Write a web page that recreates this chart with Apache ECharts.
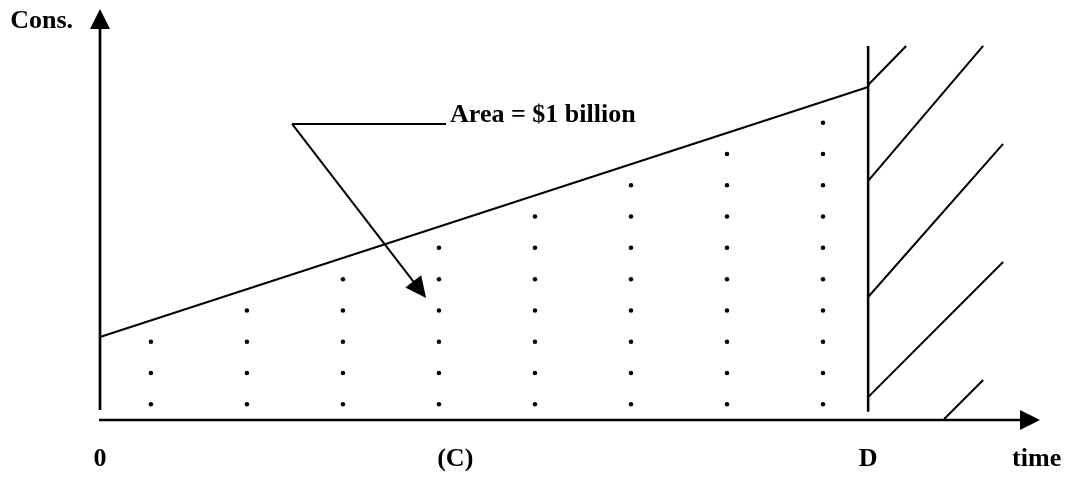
<!DOCTYPE html>
<html>
<head>
<meta charset="utf-8">
<script src="https://cdn.jsdelivr.net/npm/echarts@6/dist/echarts.min.js"></script>
<style>
  html, body { margin: 0; padding: 0; background: #fff; }
  #chart { width: 1070px; height: 481px; }
</style>
</head>
<body>
<div id="chart"></div>
<script>
// ---- data (diagram units: time on x, consumption on y) ----
const timeTickValues = [0, 3.7, 8, 9.755];
const timeTickLabels = ['0', '(C)', 'D', 'time'];
const consLabelValue = 12.73;
const consLabel = 'Cons.';

const yAxisSegment = [[0, 0.32, 0, 13.13]];
const xAxisSegment = [[-0.01, 0, 9.79, 0]];
const consumptionPath = [[0, 2.65], [8, 10.64]];
const deadlineSegment = [[8, 0.26, 8, 11.95]];
const hatchSegments = [
  [8, 10.70, 8.396, 11.95],
  [8, 7.64, 9.198, 11.95],
  [8, 3.93, 9.406, 8.82],
  [8, 0.73, 9.406, 5.05],
  [8.792, 0.03, 9.198, 1.28]
];
const dotColumnX = [0.53, 1.53, 2.53, 3.53, 4.53, 5.53, 6.53, 7.53];
const dotColumnCount = [3, 4, 5, 6, 7, 8, 9, 10];
const dotRowY = [0.5, 1.5, 2.5, 3.5, 4.5, 5.5, 6.5, 7.5, 8.5, 9.5];
const annotationRule = [[2.0, 9.46, 3.604, 9.46]];
const annotationLeader = [[2.0, 9.46, 3.396, 3.90]];
const annotationText = 'Area = $1 billion';
const annotationAnchor = [3.646, 9.72];

// ---- build ----
const dots = [];
dotColumnX.forEach((x, i) => {
  dotRowY.slice(0, dotColumnCount[i]).forEach(y => dots.push([x, y]));
});

const FONT = { fontFamily: 'Liberation Serif', fontWeight: 'bold', fontSize: 26, color: '#000' };

function segmentSeries(data, width, arrow) {
  return {
    type: 'custom',
    coordinateSystem: 'cartesian2d',
    clip: false,
    silent: true,
    encode: { x: [0, 2], y: [1, 3] },
    data: data,
    renderItem: function (params, api) {
      const p1 = api.coord([api.value(0), api.value(1)]);
      const p2 = api.coord([api.value(2), api.value(3)]);
      const children = [];
      let end = p2;
      if (arrow) {
        const dx = p2[0] - p1[0], dy = p2[1] - p1[1];
        const L = Math.hypot(dx, dy);
        const ux = dx / L, uy = dy / L;
        const nx = -uy, ny = ux;
        const base = [p2[0] - ux * arrow.len, p2[1] - uy * arrow.len];
        children.push({
          type: 'polygon',
          shape: { points: [
            p2,
            [base[0] + nx * arrow.w / 2, base[1] + ny * arrow.w / 2],
            [base[0] - nx * arrow.w / 2, base[1] - ny * arrow.w / 2]
          ] },
          style: { fill: '#000' }
        });
        end = [base[0] + ux * 1, base[1] + uy * 1];
      }
      children.unshift({
        type: 'line',
        shape: { x1: p1[0], y1: p1[1], x2: end[0], y2: end[1] },
        style: { stroke: '#000', lineWidth: width, lineCap: 'butt' }
      });
      return { type: 'group', children: children };
    }
  };
}

const chart = echarts.init(document.getElementById('chart'), null, { renderer: 'canvas' });
chart.setOption({
  backgroundColor: '#fff',
  animation: false,
  grid: { left: 100, top: 9, width: 940, height: 411, outerBoundsMode: 'none' },
  xAxis: {
    type: 'value', min: 0, max: 9.79,
    axisLine: { show: false }, axisTick: { show: false }, splitLine: { show: false },
    axisLabel: {
      show: true,
      customValues: timeTickValues,
      formatter: v => timeTickLabels[timeTickValues.indexOf(v)],
      margin: 26,
      ...FONT,
      lineHeight: 26
    }
  },
  yAxis: {
    type: 'value', min: 0, max: 13.13,
    axisLine: { show: false }, axisTick: { show: false }, splitLine: { show: false },
    axisLabel: {
      show: true,
      customValues: [consLabelValue],
      formatter: () => consLabel,
      margin: 27,
      ...FONT,
      lineHeight: 26
    }
  },
  series: [
    segmentSeries(yAxisSegment, 2.7, { len: 20, w: 20 }),
    segmentSeries(xAxisSegment, 2.7, { len: 20, w: 20 }),
    {
      type: 'line',
      data: consumptionPath,
      symbol: 'none',
      silent: true,
      lineStyle: { color: '#000', width: 2 }
    },
    segmentSeries(deadlineSegment, 2.5, null),
    segmentSeries(hatchSegments, 2, null),
    {
      type: 'scatter',
      data: dots,
      symbol: 'circle',
      symbolSize: 4.5,
      silent: true,
      itemStyle: { color: '#000', opacity: 1 }
    },
    segmentSeries(annotationRule, 2, null),
    segmentSeries(annotationLeader, 2, { len: 21, w: 20 }),
    {
      type: 'scatter',
      data: [{ value: annotationAnchor, name: annotationText }],
      symbolSize: 0,
      silent: true,
      clip: false,
      itemStyle: { opacity: 1 },
      label: {
        show: true,
        position: 'right',
        distance: 0,
        formatter: p => p.name,
        ...FONT,
        lineHeight: 26
      }
    }
  ]
});
</script>
</body>
</html>
